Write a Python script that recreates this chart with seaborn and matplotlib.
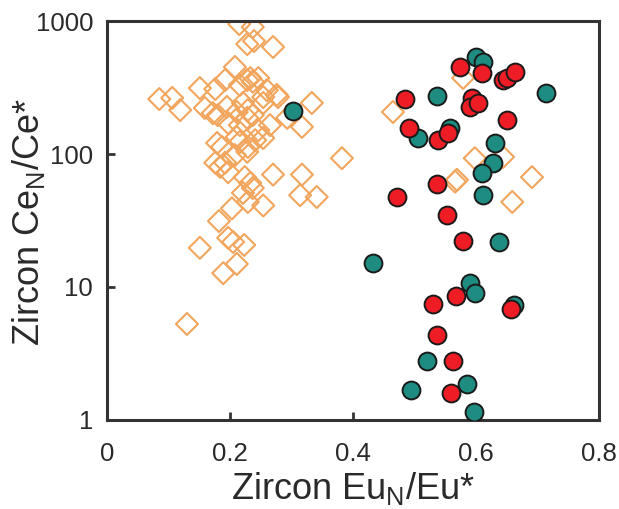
import matplotlib
matplotlib.use("Agg")
import matplotlib.pyplot as plt
import seaborn as sns
import pandas as pd

# Zircon Eu_N/Eu* vs Ce_N/Ce* for three zircon groups
orange_eu = [0.215, 0.237, 0.228, 0.239, 0.270, 0.208,
             0.228, 0.233, 0.237, 0.246, 0.192, 0.176, 0.151, 0.216,
             0.276, 0.278, 0.254, 0.260, 0.085, 0.106, 0.119, 0.333,
             0.293, 0.317,
             0.159, 0.172, 0.180, 0.195, 0.211, 0.221, 0.229, 0.237, 0.254,
             0.197, 0.216, 0.228, 0.265,
             0.246, 0.254, 0.241, 0.229, 0.211, 0.216,
             0.179, 0.187, 0.176, 0.184, 0.192, 0.197, 0.208, 0.228,
             0.270, 0.317, 0.382,
             0.224, 0.233, 0.237, 0.221, 0.254, 0.229,
             0.314, 0.341,
             0.203, 0.182, 0.151, 0.197, 0.205, 0.223, 0.211, 0.189, 0.130,
             0.465, 0.579, 0.598, 0.644, 0.569, 0.566, 0.691, 0.659]
orange_ce = [949, 901, 671, 707, 638, 451,
             360, 372, 350, 372, 360, 308, 313, 330,
             278, 268, 268, 302, 259, 264, 214, 242,
             187, 160,
             222, 203, 196, 226, 207, 242, 214, 196, 242,
             171, 165, 187, 165,
             151, 132, 127, 113, 134, 123,
             121, 113, 86, 80, 86, 73, 98, 104,
             70, 70, 93,
             67, 60.5, 55.5, 51, 41, 43.6,
             49, 47.5,
             39, 31.3, 19.7, 23.4, 21.8, 20.7, 14.9, 12.7, 5.27,
             207, 373, 93, 95, 64, 62, 67, 43.6]

teal_eu = [0.302, 0.537, 0.600, 0.611, 0.714, 0.558, 0.506, 0.631, 0.628,
           0.610, 0.611, 0.637, 0.433, 0.590, 0.598, 0.662, 0.520, 0.494,
           0.585, 0.597]
teal_ce = [210, 273, 536, 492, 288, 157, 132, 121, 86,
           72, 49, 21.8, 15.1, 10.7, 9.0, 7.3, 2.78, 1.68,
           1.87, 1.15]

red_eu = [0.574, 0.610, 0.644, 0.650, 0.663, 0.485, 0.594, 0.590, 0.603,
          0.650, 0.491, 0.538, 0.554, 0.537, 0.472, 0.553, 0.579, 0.567,
          0.530, 0.657, 0.537, 0.563, 0.559]
red_ce = [451, 406, 360, 372, 412, 259, 264, 226, 242,
          180, 157, 127, 144, 59, 47.5, 34.8, 22.2, 8.6,
          7.45, 6.8, 4.36, 2.78, 1.6]

x_ticks = [0, 0.2, 0.4, 0.6, 0.8]
x_tick_labels = ["0", "0.2", "0.4", "0.6", "0.8"]
y_ticks = [1, 10, 100, 1000]
y_tick_labels = ["1", "10", "100", "1000"]

ORANGE = "#F2A55C"
TEAL = "#1F8C82"
RED = "#EE1D25"
INK = "#333333"
TEXT = "#2a2a2a"

sns.set_theme(style="white")
plt.rcParams["font.family"] = ["Liberation Sans", "DejaVu Sans"]
plt.rcParams["mathtext.fontset"] = "custom"
plt.rcParams["mathtext.rm"] = "Liberation Sans"
plt.rcParams["mathtext.it"] = "Liberation Sans"

fig = plt.figure(figsize=(6.19, 5.09), dpi=100)
ax = fig.add_axes([0.1729, 0.1749, 0.7948, 0.7838])

df_o = pd.DataFrame({"eu": orange_eu, "ce": orange_ce})
df_t = pd.DataFrame({"eu": teal_eu, "ce": teal_ce})
df_r = pd.DataFrame({"eu": red_eu, "ce": red_ce})

sns.scatterplot(data=df_o, x="eu", y="ce", ax=ax, marker="D", s=125,
                facecolor="none", edgecolor=ORANGE, linewidth=1.5, zorder=2)
sns.scatterplot(data=df_t, x="eu", y="ce", ax=ax, marker="o", s=165,
                color=TEAL, edgecolor="#1a1a1a", linewidth=1.4, zorder=3)
sns.scatterplot(data=df_r, x="eu", y="ce", ax=ax, marker="o", s=165,
                color=RED, edgecolor="#1a1a1a", linewidth=1.4, zorder=4)

ax.set_yscale("log")
ax.set_xlim(0, 0.8)
ax.set_ylim(1, 1000)
ax.set_xticks(x_ticks)
ax.set_xticklabels(x_tick_labels)
ax.set_yticks(y_ticks)
ax.set_yticklabels(y_tick_labels)
ax.minorticks_off()
ax.tick_params(axis="both", direction="in", length=6, width=2, color=INK,
               labelsize=18.5, labelcolor=TEXT)
ax.tick_params(axis="x", pad=16)
ax.tick_params(axis="y", pad=10)
ax.tick_params(top=False, right=False, bottom=True, left=True)

for side in ["left", "bottom", "top", "right"]:
    ax.spines[side].set_color(INK)
    ax.spines[side].set_linewidth(2.2)

ax.set_xlabel("Zircon Eu$_\\mathrm{N}$/Eu*", fontsize=26, color=TEXT, labelpad=3)
ax.set_ylabel("Zircon Ce$_\\mathrm{N}$/Ce*", fontsize=26, color=TEXT)
ax.yaxis.set_label_coords(-0.122, 0.495)
ax.grid(False)

fig.savefig("out.png", dpi=100, facecolor="white")
